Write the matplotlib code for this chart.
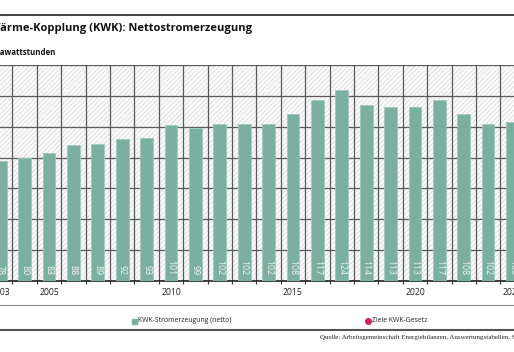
import matplotlib
matplotlib.use('Agg')
import matplotlib.pyplot as plt
from matplotlib.lines import Line2D
from matplotlib.patches import Rectangle

# ---- data ----
years = list(range(2003, 2025))
values = [78, 80, 83, 88, 89, 92, 93, 101, 99, 102, 102, 102,
          108, 117, 124, 114, 113, 113, 117, 108, 102, 103]
tick_years = [2003, 2005, 2010, 2015, 2020, 2024]
title = "Kraft-Wärme-Kopplung (KWK): Nettostromerzeugung"
title_hidden = "Kraft-W"
subtitle = "in Terawattstunden"
subtitle_hidden = "in Ter"
legend_labels = ["KWK-Stromerzeugung (netto)", "Ziele KWK-Gesetz"]
source = "Quelle: Arbeitsgemeinschaft Energiebilanzen, Auswertungstabellen, Stand 09/2024"

BAR = '#7aafa1'
DOT = '#d81b5e'
GRID = '#5a5a5a'

W, H = 514, 352
fig = plt.figure(figsize=(W / 100, H / 100), dpi=100)
fig.patch.set_facecolor('white')


def fy(py):
    return 1 - py / H


def fx(px):
    return px / W


plt.rcParams['hatch.linewidth'] = 0.45
font = 'Open Sans'

ax = fig.add_axes([0, fy(281), 1, fy(65) - fy(281)])
ax.set_xlim(2002.99, 2024.06)
ax.set_ylim(0, 140)
ax.patch.set_visible(False)
bg = Rectangle((0, 0), 1, 1, transform=ax.transAxes, facecolor='#fbfbfb',
               edgecolor='#d2d2d2', hatch='///////', linewidth=0, zorder=0)
ax.add_patch(bg)

bounds = [y + 0.5 for y in years[:-1]]
ax.set_xticks(bounds)
ax.set_xticklabels([])
ax.set_xticks(tick_years, minor=True)
ax.set_xticklabels([str(y) for y in tick_years], minor=True,
                   fontsize=6.2, family=font, color='#222222')
ax.tick_params(axis='x', which='minor', length=0, pad=5)
ax.tick_params(axis='x', which='major', length=2.5, width=0.8,
               color='#333333', direction='out')
ax.set_yticks(range(0, 141, 20))
ax.tick_params(axis='y', length=0, labelleft=False)
ax.grid(axis='x', which='major', color=GRID, lw=0.9, zorder=1)
ax.grid(axis='y', color=GRID, lw=0.9, zorder=1)
ax.set_axisbelow(True)
for s in ['top', 'left', 'right']:
    ax.spines[s].set_visible(False)
ax.spines['bottom'].set_color('#222222')
ax.spines['bottom'].set_linewidth(1.2)

ax.bar(years, values, width=0.52, color=BAR, edgecolor='#a3c9be',
       linewidth=0.6, zorder=3)
for x, v in zip(years, values):
    ax.annotate(str(v), (x, 0), xytext=(0, 4.3), textcoords='offset points',
                rotation=270, ha='center', va='bottom', fontsize=6.3,
                family=font, color='#f4f4f4', zorder=4)

renderer = fig.canvas.get_renderer()


def width_px(s, size, weight='normal', family=font):
    t = fig.text(0, 0, s, fontsize=size, fontweight=weight, family=family)
    w = t.get_window_extent(renderer).width
    t.remove()
    return w


def fit_size(s, target, base, weight='normal'):
    return base * target / width_px(s, base, weight)


# ---- titles (left part cut off by the frame) ----
t_size = fit_size(title[len(title_hidden):], 250, 9, 'bold')
off = width_px(title_hidden, t_size, 'bold') / W
fig.text(-off, fy(29), title, fontsize=t_size, fontweight='bold',
         family=font, va='center', ha='left', color='#111111')

s_size = fit_size(subtitle[len(subtitle_hidden):], 55, 6.5, 'bold')
off = width_px(subtitle_hidden, s_size, 'bold') / W
fig.text(-off, fy(52.5), subtitle, fontsize=s_size, fontweight='bold',
         family=font, va='center', ha='left', color='#111111')

# ---- rules ----
fig.add_artist(Line2D([0, 1], [fy(15), fy(15)], color='#333333', lw=1.3))
fig.add_artist(Line2D([0, 1], [fy(305), fy(305)], color='#8a8a8a', lw=0.8))
fig.add_artist(Line2D([0, 1], [fy(330), fy(330)], color='#555555', lw=1.5))

# ---- legend ----
l_size = fit_size(legend_labels[0], 94, 6)
fig.add_artist(Line2D([fx(133.5)], [fy(320.7)], marker='s', ms=3.6,
                      color=BAR, lw=0))
fig.text(fx(138), fy(320.7), legend_labels[0], fontsize=l_size, family=font,
         va='center', ha='left', color='#222222')
fig.add_artist(Line2D([fx(368)], [fy(320.5)], marker='o', ms=4,
                      color=DOT, lw=0))
fig.text(fx(372.5), fy(320.7), legend_labels[1], fontsize=l_size, family=font,
         va='center', ha='left', color='#222222')

fig.text(fx(320), fy(337.5), source, fontsize=5, family='Liberation Serif',
         va='center', ha='left', color='#222222')

fig.savefig('out.png', dpi=100)
